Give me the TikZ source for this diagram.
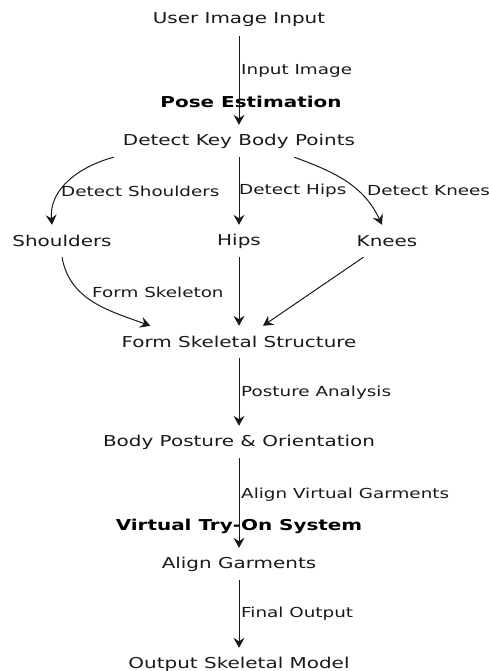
\documentclass[tikz,border=0pt]{standalone}
\usepackage{fontspec}
\setmainfont{DejaVu Sans}[FakeStretch=1.33]
\usetikzlibrary{arrows.meta}

\begin{document}
\begin{tikzpicture}[x=1pt, y=1pt, >={Stealth[length=10pt, width=11pt, inset=3.5pt]},
block/.style={minimum height=32pt, inner sep=0pt, text=black!90, font=\fontsize{15}{18}\selectfont},
title/.style={inner sep=0pt, text=black, font=\fontsize{15}{18}\selectfont\bfseries},
lbl/.style={anchor=west, inner sep=0pt, text=black!90, font=\fontsize{13.8}{16}\selectfont},
link/.style={->, line width=1pt, draw=black!90}]
\useasboundingbox (0,0) rectangle (489,-671);

% Pose estimation
\node[block] (user) at (239,-20) {User Image Input};
\node[title] (pose) at (251,-102) {Pose Estimation};
\node[block] (detect) at (239,-141) {Detect Key Body Points};
\node[block] (shoulders) at (62,-241) {Shoulders};
\node[block] (hips) at (239,-241) {Hips};
\node[block] (knees) at (387,-241) {Knees};
\node[block] (form) at (239,-342) {Form Skeletal Structure};
\node[block] (posture) at (239,-442) {Body Posture \& Orientation};

% Virtual try-on
\node[title] (tryon) at (239,-526) {Virtual Try-On System};
\node[block] (align) at (239,-564) {Align Garments};
\node[block] (output) at (239,-664) {Output Skeletal Model};

% Edges
\draw[link] (user) -- (detect);
\draw[link] ([xshift=-9pt]detect.south west) to[out=195, in=95] ([xshift=-10pt]shoulders.north);
\draw[link] (detect.south) -- (hips.north);
\draw[link] ([xshift=-61pt]detect.south east) to[out=-20, in=115] ([xshift=-5pt]knees.north);
\draw[link] (shoulders.south) to[out=-80, in=160] ([xshift=29pt]form.north west);
\draw[link] (hips) -- (form);
\draw[link] ([xshift=7pt]knees.south west) -- ([xshift=24pt]form.north);
\draw[link] (form) -- (posture);
\draw[link] (posture) -- (align);
\draw[link] (align) -- (output);

% Edge labels
\node[lbl] at (241,-71) {Input Image};
\node[lbl] at (61,-191) {Detect Shoulders};
\node[lbl] at (239,-191) {Detect Hips};
\node[lbl] at (367,-191) {Detect Knees};
\node[lbl] at (92,-292) {Form Skeleton};
\node[lbl] at (241,-393) {Posture Analysis};
\node[lbl] at (241,-495) {Align Virtual Garments};
\node[lbl] at (241,-614) {Final Output};
\end{tikzpicture}
\end{document}
